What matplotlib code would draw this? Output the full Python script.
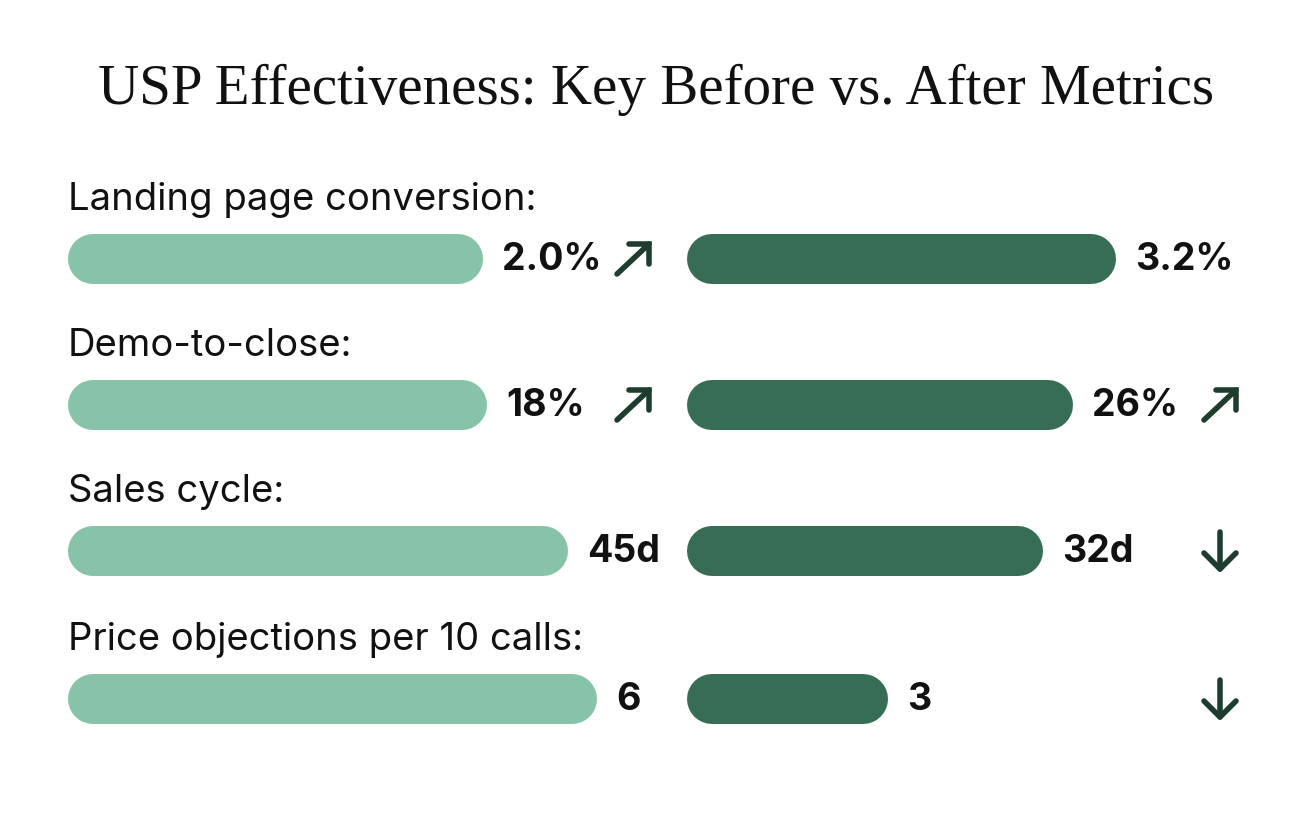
import matplotlib.pyplot as plt

# Datos
metrics = ["Landing page conversion:", "Demo-to-close:", "Sales cycle:",
           "Price objections per 10 calls:"]
before_labels = ["2.0%", "18%", "45d", "6"]
after_labels = ["3.2%", "26%", "32d", "3"]
# longitud visual de las barras
before_len = [415, 419, 500, 529]
after_len = [429, 386, 356, 201]
mid_arrow = ["up", "up", None, None]
end_arrow = [None, "up", "down", "down"]

LIGHT = "#86c3a8"
DARK = "#376d54"
ARROW = "#1f3d2f"

W, H = 1312, 816
fig = plt.figure(figsize=(W / 100, H / 100), dpi=100)
ax = fig.add_axes([0, 0, 1, 1])
ax.set_xlim(0, W)
ax.set_ylim(H, 0)
ax.axis("off")

ax.text(W / 2, 90, "USP Effectiveness: Key Before vs. After Metrics",
        ha="center", va="center", fontsize=41, family="Liberation Serif",
        color="#111111")


def bar(x0, length, yc, color, h=50):
    # barra redondeada: linea gruesa con extremos redondos
    r = h / 2
    ax.plot([x0 + r, x0 + length - r], [yc, yc], color=color,
            lw=h * 0.72, solid_capstyle="round")


def arrow(kind, xc, yc):
    kw = dict(color=ARROW, lw=4, solid_capstyle="round")
    if kind == "up":
        ax.plot([xc - 16, xc + 16], [yc + 15, yc - 15], **kw)
        ax.plot([xc - 4, xc + 16, xc + 16], [yc - 15, yc - 15, yc + 5], **kw,
                solid_joinstyle="miter")
    elif kind == "down":
        ax.plot([xc, xc], [yc - 19, yc + 18], **kw)
        ax.plot([xc - 16, xc, xc + 16], [yc + 2, yc + 18, yc + 2], **kw,
                solid_joinstyle="round")


row_y = [259, 405, 551, 699]
left_x, right_x = 68, 687
for i, m in enumerate(metrics):
    yc = row_y[i]
    ax.text(left_x, yc - 59, m, ha="left", va="center", fontsize=27.5,
            family="Inter", color="#111111")
    bar(left_x, before_len[i], yc, LIGHT)
    bar(right_x, after_len[i], yc, DARK)
    ax.text(left_x + before_len[i] + 19, yc + 1, before_labels[i], ha="left",
            va="center", fontsize=27, family="Inter", weight="bold",
            color="#111111")
    ax.text(right_x + after_len[i] + 19, yc + 1, after_labels[i], ha="left",
            va="center", fontsize=27, family="Inter", weight="bold",
            color="#111111")
    if mid_arrow[i]:
        arrow(mid_arrow[i], 633, yc)
    if end_arrow[i]:
        arrow(end_arrow[i], 1220, yc)

fig.savefig("out.png", dpi=100, facecolor="white")
